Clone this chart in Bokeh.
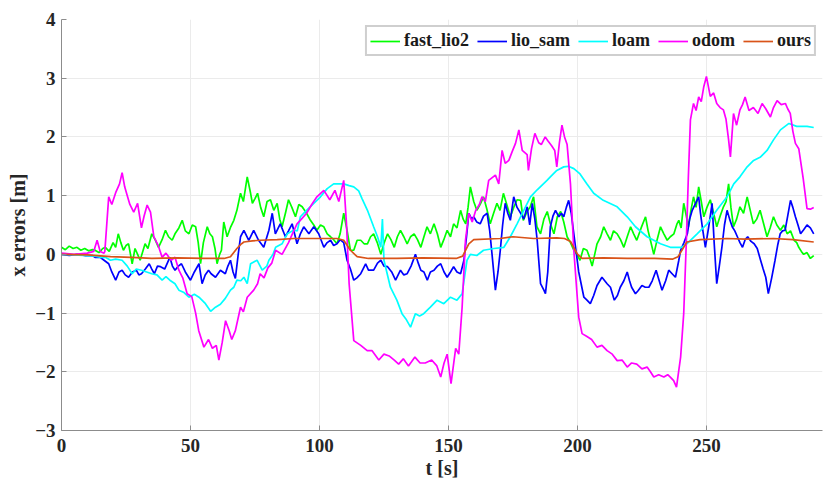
from bokeh.plotting import figure
from bokeh.models import Legend, LegendItem, FixedTicker, Range1d
from bokeh.embed import file_html
from bokeh.resources import INLINE

# ---------------- data ----------------
x_ticks = [0, 50, 100, 150, 200, 250]
y_ticks = [-3, -2, -1, 0, 1, 2, 3, 4]

t_odom = [0, 5, 10, 12.5, 13.8, 15, 16.5, 16.8, 18.3, 19.5, 21, 22.5, 23.5, 24.5, 25.5, 26.5, 28, 29.5, 31, 32,
          33.2, 34.5, 35.8, 37.5, 39, 40.5, 42.5, 44, 45.5, 47, 48.7, 50.5, 52, 53.2, 55.2, 57, 58.5, 60, 61, 62.3,
          63.6, 65, 66, 67.4, 69.4, 70.5, 72, 74.5, 76, 77, 78.5, 80, 81.5, 83, 85.5, 88, 89.5, 91.3, 93, 95,
          97, 99, 101.7, 104, 106, 107.5, 109.4, 110.5, 111.5, 113.3, 116, 118.5, 120.4, 123, 125, 127, 129, 130.7, 132.5, 134.5,
          137, 139, 141, 143.5, 145.5, 147, 148.3, 149.5, 151, 152.8, 154, 155.3, 156.6, 157.9, 159.2, 160.5, 162, 163, 164.3, 165.6,
          168.2, 169.5, 170.8, 172, 173.4, 174.7, 176, 177.3, 178.6, 180.5, 181, 182.2, 183.5, 185, 186, 187.5, 188.6, 190,
          191.2, 192, 193, 194, 195, 196, 197.3, 198.6, 200.5, 201.8, 203.7, 205.5, 207.6, 209.5, 211.5, 213.5, 215.4, 217.3,
          219.3, 221, 223, 225, 227, 228.3, 229.6, 231.5, 233.5, 235, 236, 237.3, 238.4, 240, 241.2, 242.2, 243, 243.8,
          245, 246, 247, 248, 249, 250, 251.5, 252.8, 254, 255.3, 256.6, 257.6, 258.6, 259.3, 260.5, 261.7, 263, 264,
          265, 266.5, 268.2, 270, 271.6, 273, 274.8, 276, 277.4, 279, 280.6, 281.5, 282.5, 283.5, 284.5, 285.8, 287.5, 289,
          290.3, 291.6]
v_odom = [0.02, 0.0, 0.02, 0.05, 0.24, 0.05, 0.02, 0.05, 0.98, 0.85, 1.05, 1.2, 1.39, 1.15, 1.0, 0.85, 0.72, 0.87, 0.45, 0.65,
          0.84, 0.72, 0.3, 0.15, -0.05, 0.02, -0.1, -0.05, -0.27, -0.4, -0.67, -0.72, -1.0, -1.3, -1.58, -1.45, -1.6, -1.55, -1.8, -1.5,
          -1.13, -1.3, -1.45, -1.3, -0.9, -0.98, -0.73, -0.61, -0.5, -0.33, -0.4, -0.23, -0.15, 0.07, 0.0, 0.2, 0.35, 0.52, 0.6, 0.7,
          0.85, 0.98, 1.09, 0.93, 1.09, 0.9, 1.26, 0.5, -0.5, -1.47, -1.55, -1.64, -1.64, -1.8, -1.7, -1.73, -1.8, -1.87, -1.78, -1.9,
          -1.75, -1.85, -1.85, -1.8, -1.9, -2.09, -1.85, -1.7, -2.2, -1.6, -1.7, -0.9, 0.24, 0.7, 0.55, 0.74, 0.85, 0.98, 0.9, 1.26,
          1.35, 1.2, 1.77, 1.55, 1.6, 1.75, 1.89, 2.12, 1.77, 1.7, 1.43, 1.8, 2.06, 1.9, 1.87, 2.0, 1.93, 1.85,
          1.77, 1.49, 1.9, 2.2, 2.0, 1.87, 1.2, 0.07, -1.07, -1.35, -1.4, -1.45, -1.58, -1.55, -1.64, -1.7, -1.81, -1.8,
          -1.92, -1.85, -1.87, -1.95, -1.92, -2.0, -2.09, -2.05, -2.09, -2.05, -2.09, -2.15, -2.26, -1.75, -1.01, 0.2, 1.32, 2.29,
          2.57, 2.45, 2.68, 2.6, 2.86, 3.03, 2.69, 2.75, 2.57, 2.5, 2.46, 2.3, 1.95, 1.66, 2.4, 2.2, 2.46, 2.55,
          2.68, 2.45, 2.5, 2.4, 2.57, 2.48, 2.34, 2.5, 2.62, 2.55, 2.57, 2.48, 2.4, 2.1, 1.89, 1.8, 1.3, 0.78,
          0.77, 0.8]

t_fast = [0, 1.5, 3, 4.5, 6, 7.5, 9, 10.5, 12, 13, 14.5, 16, 17, 18.5, 20, 21, 22, 23, 24, 25, 26, 27.4, 28.5, 29.5, 30.5,
          31.5, 32.4, 33.5, 35, 36.3, 37.6, 39, 40.3, 41.5, 42.9, 44, 45.5, 46.8, 48, 49.4, 50.7, 52, 53, 53.9, 55, 56.5,
          57.5, 58.5, 59.5, 60.3, 61.3, 62.0, 62.9, 64.2, 65.6, 66.8, 68, 69.4, 70.5, 72, 73.3, 74, 75, 76, 77.2, 78.4,
          79.7, 81, 82.3, 83.6, 84.6, 85.5, 86.8, 88, 89.3, 90.7, 92, 93.3, 95, 96.5, 97.8, 99, 100.4, 101.7, 103, 104.3,
          105.5, 106.8, 108, 109.4, 110.7, 112, 113.3, 114.6, 116, 117.3, 118.6, 119.8, 121, 122.4, 123.8, 125.1, 126.4,
          127.7, 129, 130.2, 131.4, 132.7, 134, 135.3, 136.7, 138, 139.3, 140.5, 141.7, 143, 144.4, 145.7, 147, 148.2,
          149.5, 150.8, 152, 153.3, 154.7, 155.7, 156.7, 157.6, 158.5, 159.8, 161, 162.3, 163.6, 165, 166.2, 167.5, 168.8,
          170, 171.3, 172.6, 174, 175.3, 176.6, 178, 179, 180.5, 181.7, 183, 184.3, 185.7, 187, 188.3, 189.5, 190.9, 192.2,
          193.5, 194.7, 196, 197.3, 198.6, 199.8, 201, 202.3, 203.7, 204.7, 205.7, 206.7, 207.6, 209, 210.2, 211.5, 212.8,
          214, 215.4, 216.7, 218, 219.3, 220.6, 221.8, 223, 224.7, 226.4, 227.4, 228.3, 229.6, 230.9, 232.2, 233.5, 234.8,
          236, 237.4, 238.6, 239.3, 240.2, 241.2, 242, 243, 244, 245, 246, 247, 248, 249, 250.2, 251.5, 252.8, 254, 255.3,
          256.6, 257.6, 258.6, 259.5, 260.5, 261.7, 263, 264.4, 265.8, 267, 268.2, 269.5, 270.8, 272, 273.5, 274.7, 276,
          277.3, 278.7, 280, 281.3, 282.6, 284, 285, 285.8, 286.8, 287.7, 289, 290.3, 291.6]
v_fast = [0.12, 0.08, 0.14, 0.1, 0.12, 0.07, 0.1, 0.06, 0.08, 0.07, 0.03, 0.1, 0.12, 0.05, 0.2, 0.12, 0.35, 0.2, 0.07, 0.15, 0.18,
          -0.16, 0.1, 0.0, -0.1, 0.05, 0.18, 0.1, 0.35, 0.25, 0.12, 0.25, 0.41, 0.3, 0.24, 0.35, 0.45, 0.58, 0.4, 0.35, 0.5,
          0.47, 0.2, -0.16, 0.2, 0.47, 0.35, 0.3, 0.1, -0.16, 0.0, 0.07, 0.55, 0.3, 0.47, 0.58, 0.75, 1.04, 0.9, 1.32, 1.04,
          0.87, 0.95, 1.04, 0.8, 0.64, 0.9, 0.93, 0.75, 0.87, 0.6, 0.47, 0.7, 0.93, 0.8, 0.64, 0.85, 0.81, 0.7, 0.58, 0.5,
          0.41, 0.5, 0.47, 0.35, 0.3, 0.25, 0.18, 0.35, 0.7, 0.41, 0.07, 0.07, 0.24, 0.24, 0.18, 0.18, 0.3, 0.35, 0.2, 0.0,
          0.2, 0.35, 0.25, 0.12, 0.3, 0.41, 0.3, 0.18, 0.3, 0.35, 0.25, 0.12, 0.3, 0.47, 0.35, 0.52, 0.35, 0.12, 0.25, 0.41,
          0.3, 0.52, 0.45, 0.75, 0.6, 0.52, 0.8, 1.15, 0.9, 0.75, 0.85, 0.98, 0.75, 0.52, 0.7, 0.87, 0.75, 1.04, 0.85, 0.64,
          0.8, 0.93, 0.92, 0.58, 0.73, 0.81, 0.98, 0.47, 0.35, 0.6, 0.73, 0.52, 0.35, 0.64, 0.73, 0.55, 0.3, 0.2, 0.07, 0.0,
          -0.1, 0.1, 0.07, -0.05, -0.2, 0.0, 0.18, 0.3, 0.47, 0.35, 0.24, 0.4, 0.35, 0.25, 0.12, 0.3, 0.47, 0.35, 0.24, 0.45,
          0.64, 0.4, 0.24, 0.0, 0.25, 0.47, 0.35, 0.24, 0.3, 0.35, 0.52, 0.58, 0.45, 0.87, 0.7, 0.47, 0.75, 0.98, 0.8, 1.15,
          0.9, 0.64, 0.8, 0.93, 0.7, 0.47, 0.65, 0.81, 0.9, 1.2, 0.8, 0.47, 0.6, 0.81, 0.7, 0.98, 0.75, 0.52, 0.6, 0.75, 0.55,
          0.3, 0.45, 0.64, 0.5, 0.41, 0.5, 0.35, 0.4, 0.24, 0.2, 0.12, 0.05, 0.0, 0.03, -0.07, -0.02]

t_lio = [0, 3, 6, 9, 12, 13, 15, 16.5, 18.3, 19.5, 21, 22.3, 23.5, 24.7, 26, 27.5, 29, 30, 31, 32.5, 34, 35, 36, 37.2,
         38.4, 40, 42, 43, 44, 45.3, 46.5, 48, 50, 51.5, 53.3, 54.5, 55.7, 57, 58, 59.7, 61.6, 63.5, 64.5, 65.5, 66.5,
         67.4, 68.5, 69.4, 70.7, 72.6, 74.5, 76.4, 78.4, 80.4, 81.7, 82.9, 84.8, 86.8, 88, 89.4, 91.3, 92.6, 93.9, 95.9,
         97.8, 99.7, 101.7, 103, 104.3, 105.5, 106.8, 108, 109.4, 110.7, 112, 113.3, 114.5, 116, 117.9, 119, 121, 122.5,
         123.8, 125, 126.4, 128, 129.5, 131.4, 132.7, 134, 135.5, 137.2, 138.3, 139.3, 140.5, 141.8, 143, 144.4, 145.7,
         147, 148.3, 149.5, 150.8, 152, 153.3, 154.7, 156, 157, 157.9, 159, 159.8, 161, 162.3, 163.6, 165, 166, 166.9,
         168.2, 169.2, 170.1, 171, 172, 173, 174, 175.3, 176.6, 178, 179.2, 180.5, 181.5, 182.5, 183.5, 184.4, 185.7, 187,
         187.6, 188.5, 189.5, 190.5, 191.5, 192.8, 193.8, 194.7, 195.7, 196.6, 197.6, 198.6, 200.5, 202.5, 203.7, 205,
         206.3, 207.6, 209.5, 211.5, 212.8, 214.3, 215.5, 216.6, 218, 219.3, 220.2, 221, 222.5, 223.5, 225, 226.3, 227.7,
         229, 230.5, 231.7, 232.8, 234.2, 235.4, 236.7, 238, 239.3, 240, 241.3, 242.6, 243.5, 244.5, 245.8, 247, 247.7,
         248.4, 249.6, 250.9, 252.2, 253, 254, 255, 256, 257, 258, 259, 260, 261, 262, 263, 264, 265, 266, 267.3, 268.5,
         269.7, 271, 272, 273, 274, 275.3, 276.6, 277.6, 278.6, 279.5, 280.5, 281.5, 282.6, 283.5, 284.5, 285.5, 286.5,
         287.7, 289, 290.3, 291.6]
v_lio = [0.0, -0.02, 0.0, -0.02, -0.02, -0.05, -0.05, -0.1, -0.16, -0.3, -0.44, -0.3, -0.27, -0.35, -0.39, -0.3, -0.27, -0.35,
         -0.33, -0.25, -0.16, -0.25, -0.33, -0.2, -0.21, -0.25, -0.05, -0.2, -0.27, -0.2, -0.16, -0.3, -0.44, -0.3, -0.16,
         -0.5, -0.35, -0.27, -0.33, -0.39, -0.27, -0.33, -0.2, -0.1, -0.3, -0.41, 0.0, 0.3, 0.41, 0.24, 0.41, 0.24, 0.12,
         0.41, 0.7, 0.35, 0.52, 0.3, 0.4, 0.52, 0.18, 0.35, 0.47, 0.35, 0.47, 0.35, 0.12, 0.2, 0.24, 0.15, 0.18, 0.25, 0.2,
         -0.1, -0.25, -0.44, -0.4, -0.33, -0.16, -0.27, -0.27, -0.15, -0.1, -0.2, -0.21, -0.3, -0.44, -0.27, -0.35, -0.33,
         -0.2, 0.0, -0.15, -0.27, -0.3, -0.44, -0.3, -0.27, -0.2, -0.16, -0.3, -0.39, -0.3, -0.21, -0.3, -0.33, -0.1, 0.3,
         0.7, 0.6, 0.64, 0.55, 0.52, 0.65, 0.7, 0.4, 0.0, -0.61, -0.3, 0.07, 0.5, 0.87, 0.7, 0.58, 0.98, 0.8, 0.7, 0.6,
         0.81, 0.5, 0.87, 0.6, 0.24, -0.5, -0.61, -0.67, -0.3, 0.47, 0.65, 0.75, 0.64, 0.7, 0.64, 0.8, 0.92, 0.7, 0.35,
         -0.3, -0.73, -0.78, -0.84, -0.7, -0.53, -0.39, -0.5, -0.56, -0.78, -0.7, -0.56, -0.45, -0.3, -0.45, -0.56, -0.67,
         -0.62, -0.53, -0.56, -0.56, -0.45, -0.27, -0.45, -0.61, -0.45, -0.27, -0.33, -0.39, -0.1, 0.07, 0.2, 0.35, 0.6,
         0.75, 0.87, 0.98, 0.7, 0.47, 0.12, 0.47, 0.87, 0.2, -0.5, -0.2, 0.12, 0.5, 0.75, 0.6, 0.47, 0.4, 0.3, 0.2, 0.12,
         0.25, 0.3, 0.22, 0.18, 0.1, -0.1, -0.25, -0.39, -0.67, -0.4, -0.1, 0.15, 0.35, 0.4, 0.41, 0.65, 0.92, 0.8, 0.64,
         0.5, 0.35, 0.42, 0.5, 0.45, 0.35]

t_loam = [0, 5, 10, 13, 15, 17, 19, 21, 23.5, 25.5, 27.4, 29, 31, 33, 35, 37, 39, 40.5, 42, 44, 45.5, 47.5, 49.4, 51.5,
          53.3, 55.8, 57.8, 59.7, 61.6, 63.5, 65.5, 66.8, 68, 69.5, 70.7, 72, 73.3, 75.8, 77.8, 79.6, 80.4, 82, 83, 85.5,
          87.5, 90, 91.4, 92.6, 95, 97.8, 100.4, 103, 105.5, 109.4, 111.5, 113.3, 115.2, 116.5, 118.6, 121, 122.5, 123.8,
          124.4, 125, 127.5, 130, 132, 133.5, 135.3, 137.2, 138.8, 140.4, 143, 145.6, 148.2, 150.8, 153.3, 155.3, 157.2,
          158.5, 161, 163.6, 167.6, 171.5, 174, 176.6, 179.2, 181.8, 184.4, 188.2, 189.5, 192, 194.7, 196.5, 198.6, 201,
          203.7, 206.3, 210, 215.4, 219.3, 222.5, 227, 232.2, 236, 240.5, 242.4, 246.4, 250.3, 254, 258, 260.6, 263,
          265.8, 268.3, 271, 273.5, 276, 278.7, 282, 285, 289, 291.6]
v_loam = [0.0, -0.01, -0.02, -0.03, -0.05, -0.05, -0.1, -0.08, -0.1, -0.2, -0.33, -0.25, -0.27, -0.3, -0.33, -0.35, -0.44,
          -0.38, -0.44, -0.5, -0.61, -0.65, -0.73, -0.68, -0.73, -0.84, -0.97, -0.9, -0.85, -0.75, -0.61, -0.56, -0.44,
          -0.45, -0.39, -0.5, -0.16, -0.1, -0.27, -0.2, -0.1, 0.0, 0.12, 0.18, 0.35, 0.41, 0.4, 0.64, 0.75, 0.87, 0.98,
          1.12, 1.2, 1.2, 1.17, 1.15, 1.08, 0.95, 0.75, 0.47, 0.3, 0.12, 0.6, -0.1, -0.56, -0.78, -1.01, -1.1, -1.24,
          -1.01, -1.05, -1.01, -0.9, -0.78, -0.84, -0.73, -0.78, -0.67, -0.1, 0.0, -0.02, 0.07, 0.1, 0.12, 0.3, 0.52,
          0.75, 0.98, 1.1, 1.26, 1.32, 1.43, 1.49, 1.5, 1.46, 1.37, 1.2, 1.04, 0.92, 0.81, 0.64, 0.47, 0.3, 0.18, 0.12,
          0.12, 0.18, 0.35, 0.52, 0.75, 0.98, 1.2, 1.32, 1.49, 1.6, 1.66, 1.77, 1.95, 2.12, 2.23, 2.18, 2.18, 2.16]

t_ours = [0, 10, 19, 27, 35, 45, 55, 63, 65.5, 68, 69.5, 70.7, 74, 77, 83.6, 90, 100.4, 106.8, 109.4, 112, 114.6, 119,
          130, 140, 153, 155.5, 157.9, 159.8, 170, 175, 183, 192, 195, 197.3, 199.9, 201.8, 210, 219.3, 230, 237, 239,
          242.4, 247.5, 258, 265, 276, 283.5, 291.6]
v_ours = [0.0, -0.01, -0.04, -0.05, -0.07, -0.06, -0.07, -0.07, -0.04, 0.1, 0.17, 0.21, 0.23, 0.24, 0.25, 0.27, 0.27, 0.27,
          0.24, 0.07, -0.04, -0.07, -0.07, -0.06, -0.07, -0.03, 0.18, 0.25, 0.27, 0.3, 0.27, 0.28, 0.27, 0.22, 0.01,
          -0.07, -0.06, -0.07, -0.07, -0.08, -0.04, 0.21, 0.25, 0.27, 0.26, 0.27, 0.25, 0.21]

names = ["fast_lio2", "lio_sam", "loam", "odom", "ours"]
colors = ["#00ff00", "#0000ff", "#00ffff", "#ff00ff", "#d95319"]

# ---------------- figure ----------------
FONT = "Liberation Serif"
p = figure(width=823, height=487, output_backend="svg", toolbar_location=None,
           x_range=Range1d(0, 295), y_range=Range1d(-3, 4),
           min_border_left=61, min_border_right=1, min_border_top=19, min_border_bottom=57)
p.outline_line_color = None
p.background_fill_color = "white"

series = [(t_fast, v_fast), (t_lio, v_lio), (t_loam, v_loam), (t_odom, v_odom), (t_ours, v_ours)]
renderers = []
for (tt, vv), c in zip(series, colors):
    r = p.line(tt, vv, line_color=c, line_width=1.7)
    renderers.append(r)

legend = Legend(items=[LegendItem(label=n, renderers=[r]) for n, r in zip(names, renderers)],
                orientation="horizontal", location="top_right")
legend.label_text_font = FONT
legend.label_text_font_style = "bold"
legend.label_text_font_size = "18px"
legend.label_text_color = "#1a1a1a"
legend.glyph_width = 30
legend.glyph_height = 18
legend.label_standoff = 4
legend.label_height = 18
legend.spacing = 8
legend.padding = 3
legend.margin = 6
legend.border_line_color = "#a0a0a0"
legend.border_line_width = 2
legend.background_fill_alpha = 1.0
p.add_layout(legend)

for ax in (p.xaxis, p.yaxis):
    ax.major_label_text_font = FONT
    ax.major_label_text_font_style = "bold"
    ax.major_label_text_font_size = "19px"
    ax.major_label_text_color = "#262626"
    ax.axis_label_text_font = FONT
    ax.axis_label_text_font_style = "bold"
    ax.axis_label_text_font_size = "20px"
    ax.axis_label_text_color = "#262626"
    ax.axis_line_color = "#8c8c8c"
    ax.major_tick_line_color = "#8c8c8c"
    ax.major_tick_in = 5
    ax.major_tick_out = 0
    ax.minor_tick_line_color = None

p.xaxis.ticker = FixedTicker(ticks=x_ticks)
p.yaxis.ticker = FixedTicker(ticks=y_ticks)
p.xaxis.axis_label = "t [s]"
p.yaxis.axis_label = "x errors [m]"
p.xaxis.major_label_standoff = 8
p.yaxis.major_label_standoff = 6
p.xaxis.axis_label_standoff = 2
p.yaxis.axis_label_standoff = 3

p.xgrid.ticker = FixedTicker(ticks=x_ticks)
p.ygrid.ticker = FixedTicker(ticks=y_ticks)
p.grid.grid_line_color = "#ebebeb"
p.grid.grid_line_width = 1

open("out.html", "w").write(file_html(p, INLINE))
